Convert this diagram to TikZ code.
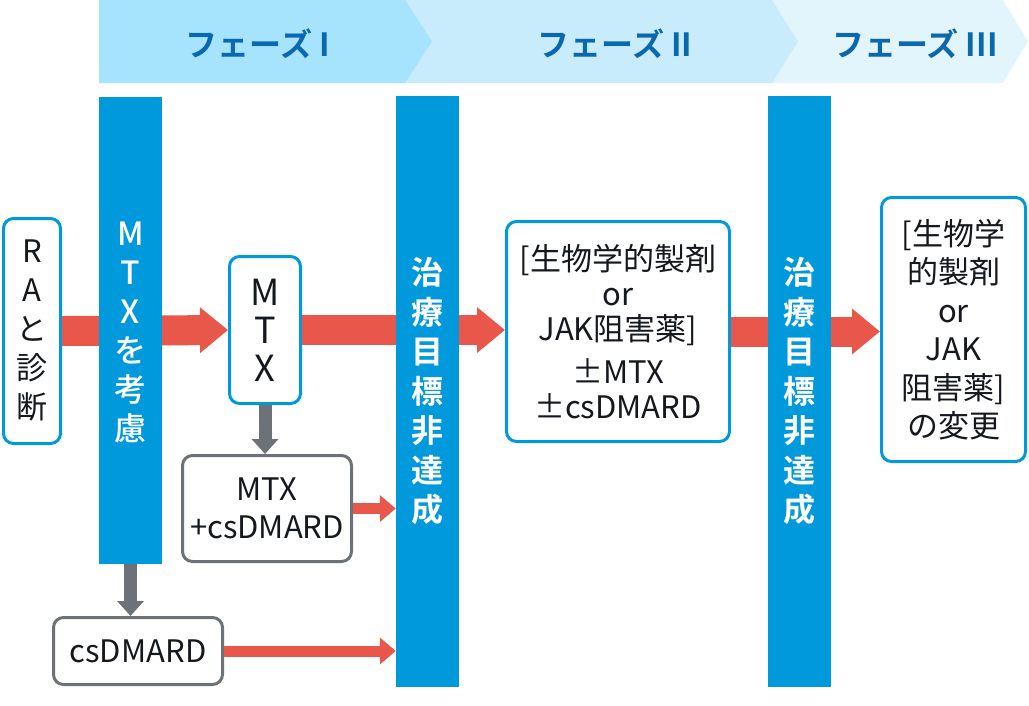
\documentclass[tikz,border=0pt]{standalone}
\usepackage{fontspec}
\setmainfont{Noto Sans CJK JP}[BoldFont={Noto Sans CJK JP Bold}]
\newfontfamily\mediumJP{Noto Sans CJK JP Medium}
\usetikzlibrary{arrows.meta,positioning}
\definecolor{barBlue}{HTML}{0099DC}
\definecolor{arrowRed}{HTML}{E9564A}
\definecolor{arrowGray}{HTML}{6D7278}
\definecolor{phaseOne}{HTML}{A6E3FD}
\definecolor{phaseTwo}{HTML}{C8ECFC}
\definecolor{phaseThree}{HTML}{E2F4FC}
\definecolor{phaseText}{HTML}{0A69AE}
\definecolor{ink}{HTML}{15191E}

\begin{document}
\begin{tikzpicture}[x=1pt,y=-1pt,
    bar/.style={fill=barBlue,text=white,minimum width=63pt,inner sep=0pt,align=center},
    blueBox/.style={draw=barBlue,line width=3pt,rounded corners=10pt,fill=white,
                    text=ink,inner sep=0pt,align=center},
    grayBox/.style={blueBox,draw=arrowGray},
    bigArrow/.style={draw=arrowRed,line width=30pt,-{Triangle[length=28pt,width=44pt]}},
    smallArrow/.style={draw=arrowRed,line width=11pt,-{Triangle[length=16pt,width=26pt]}},
    downArrow/.style={draw=arrowGray,line width=13pt,-{Triangle[length=15pt,width=26pt]}},
    phase/.style={text=phaseText,font=\fontsize{32}{36}\selectfont\bfseries}]
   \useasboundingbox (0,0) rectangle (1029,705);
   % phase banner
   \fill[phaseThree] (770,0) -- (1003,0) -- (1028,41.5) -- (1003,83) -- (770,83) -- cycle;
   \fill[phaseTwo] (404,0) -- (772,0) -- (798,41.5) -- (772,83) -- (404,83) -- cycle;
   \fill[phaseOne] (99,0) -- (405,0) -- (432,41.5) -- (405,83) -- (99,83) -- cycle;
   \node[phase] (phaseI)   at (258,44) {フェーズ I};
   \node[phase] (phaseII)  at (615,44) {フェーズ II};
   \node[phase] (phaseIII) at (915,44) {フェーズ III};

   % boxes
   \node[blueBox,minimum width=57pt,minimum height=225pt,font=\fontsize{31}{39}\selectfont]
        (diag) at (32,331) {R\\A\\と\\診\\断};
   \node[blueBox,minimum width=71pt,minimum height=147pt,font=\fontsize{36}{38}\selectfont]
        (mtx) at (265,330) {M\\T\\X};
   \node[grayBox,minimum width=169pt,minimum height=106pt,font=\fontsize{31}{38}\selectfont]
        (mtxPlus) at (267,508.5) {MTX\\+csDMARD};
   \node[grayBox,minimum width=169pt,minimum height=67pt,font=\fontsize{31}{36}\selectfont]
        (csd) at (138,651) {csDMARD};
   \node[blueBox,minimum width=223pt,minimum height=220pt,font=\fontsize{31}{35}\selectfont]
        (bioJak) at (618,331.5) {[生物学的製剤\\or\\JAK阻害薬]\\[8pt]±MTX\\±csDMARD};
   \node[blueBox,minimum width=144pt,minimum height=264pt,font=\fontsize{31}{38.5}\selectfont]
        (switchDrug) at (953.5,329.5) {[生物学\\的製剤\\or\\JAK\\阻害薬]\\の変更};

   % red flow behind the bars
   \draw[bigArrow] (diag.east) -- (mtx.west);
   \draw[bigArrow] (mtx.east) -- (mtx.east -| bioJak.west);
   \draw[bigArrow] (bioJak.east) -- (bioJak.east -| switchDrug.west);

   % bars
   \node[bar,minimum height=467pt,font=\fontsize{32}{39}\selectfont\mediumJP]
        (considerMtx) at (130.5,330.5) {\mbox{}\\[-12pt]M\\T\\X\\を\\考\\慮};
   \node[bar,minimum height=591pt,font=\fontsize{32}{39.5}\selectfont\bfseries]
        (notMet1) at (427.5,391.5) {治\\療\\目\\標\\非\\達\\成};
   \node[bar,minimum height=591pt,font=\fontsize{32}{39.5}\selectfont\bfseries]
        (notMet2) at (799.5,391.5) {治\\療\\目\\標\\非\\達\\成};

   \draw[downArrow] (mtx.south) -- (mtx.south |- mtxPlus.north);
   \draw[downArrow] (considerMtx.south) -- (considerMtx.south |- csd.north);
   \draw[smallArrow] (mtxPlus.east) -- (mtxPlus.east -| notMet1.west);
   \draw[smallArrow] (csd.east) -- (csd.east -| notMet1.west);

\end{tikzpicture}
\end{document}
